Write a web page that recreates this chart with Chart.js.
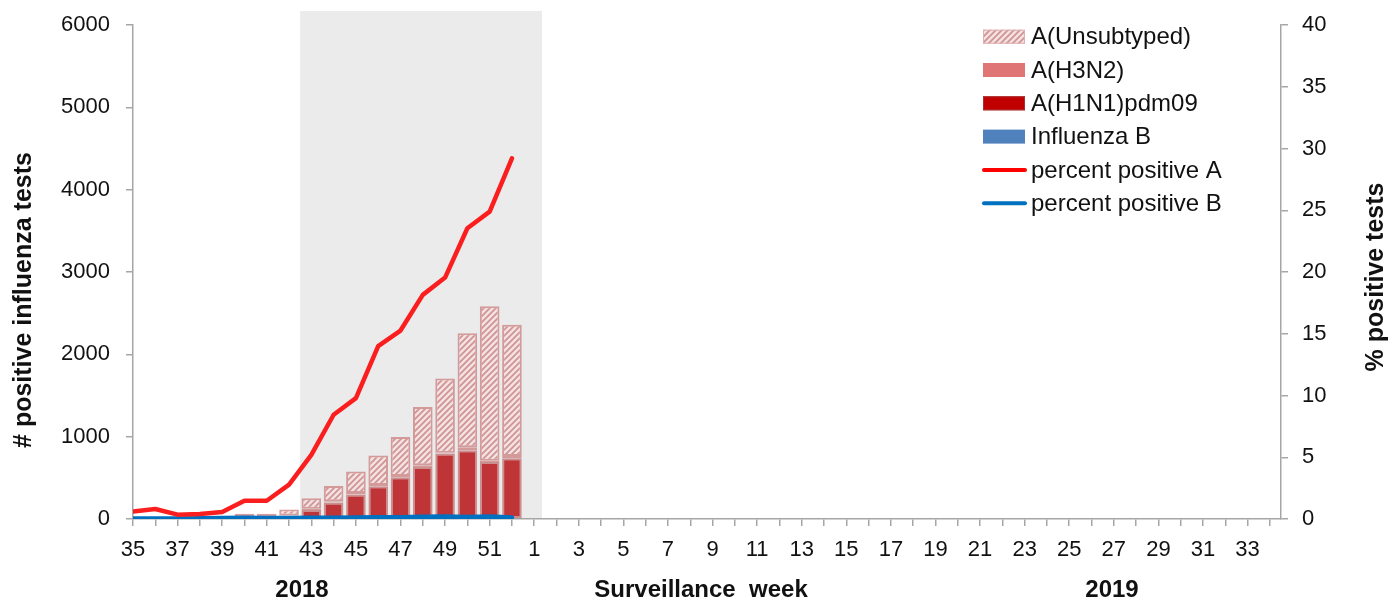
<!DOCTYPE html>
<html>
<head>
<meta charset="utf-8">
<script src="https://cdn.jsdelivr.net/npm/chart.js@4/dist/chart.umd.min.js"></script>
<style>
  html,body{margin:0;padding:0;background:#fff;}
  #wrap{position:relative;width:1398px;height:602px;}
</style>
</head>
<body>
<div id="wrap"><canvas id="c"></canvas></div>
<script>
// ---------- DATA ----------
const weeks = [35,36,37,38,39,40,41,42,43,44,45,46,47,48,49,50,51,52,
  1,2,3,4,5,6,7,8,9,10,11,12,13,14,15,16,17,18,19,20,21,22,23,24,25,26,27,28,29,30,31,32,33,34];
const fluB     = [2,2,3,3,4,4,4,5,5,6,6,7,8,8,10,9,9,8];
const h1n1     = [0,0,0,2,3,5,5,25,104,194,291,392,498,625,785,826,682,731];
const h3n2     = [0,0,1,2,2,5,5,12,15,15,20,15,15,20,10,35,15,25];
const unsub    = [4,6,7,8,13,50,50,73,127,187,259,358,474,707,902,1387,1877,1594];
const pctA     = [0.61,0.81,0.35,0.40,0.57,1.48,1.48,2.78,5.2,8.44,9.79,14.0,15.26,18.15,19.55,23.54,24.89,29.2];
const pctB     = [0.05,0.05,0.05,0.06,0.08,0.1,0.08,0.08,0.1,0.1,0.12,0.14,0.14,0.18,0.2,0.16,0.2,0.12];
const leftTicks  = [0,1000,2000,3000,4000,5000,6000];
const rightTicks = [0,5,10,15,20,25,30,35,40];
const shade = [7.5, 18.35]; // season shading, in week index units

const FONT = '"Liberation Sans", Arial, sans-serif';
const pts = arr => arr.map((v,i)=>({x:i,y:v}));

// hatch for A(Unsubtyped)
function hatch(){
  const c=document.createElement('canvas'); c.width=6; c.height=6;
  const g=c.getContext('2d');
  g.fillStyle='#F4E2E2'; g.fillRect(0,0,6,6);
  g.strokeStyle='#D09494'; g.lineWidth=1.8;
  g.beginPath();
  g.moveTo(-1,7); g.lineTo(7,-1);
  g.moveTo(-4,4); g.lineTo(4,-4);
  g.moveTo(2,10); g.lineTo(10,2);
  g.stroke();
  return g.createPattern(c,'repeat');
}
const hatchFill = hatch();
const barBorder = 'rgba(208,140,140,0.85)';

// ---------- PLUGINS ----------
const deco = {
  id:'deco',
  beforeDraw(chart){
    const {ctx, chartArea, scales:{x}} = chart;
    ctx.save();
    ctx.fillStyle='#EBEBEB';
    const x1=x.getPixelForValue(shade[0]), x2=x.getPixelForValue(shade[1]);
    const top = chartArea.top-14;
    ctx.fillRect(x1, top, x2-x1, chartArea.bottom-top);
    ctx.restore();
  },
  afterDraw(chart){
    const {ctx} = chart;
    ctx.save();
    ctx.fillStyle='#111';
    ctx.font='bold 24px '+FONT;
    ctx.textAlign='center'; ctx.textBaseline='middle';
    ctx.fillText('Surveillance  week', 701, 590);
    ctx.fillText('2018', 302, 590);
    ctx.fillText('2019', 1112, 590);
    ctx.font='bold 25px '+FONT;
    ctx.save(); ctx.translate(24,300); ctx.rotate(-Math.PI/2);
    ctx.fillText('# positive influenza tests',0,0); ctx.restore();
    ctx.save(); ctx.translate(1376,277); ctx.rotate(-Math.PI/2);
    ctx.fillText('% positive tests',0,0); ctx.restore();

    // legend
    const items = [
      {t:'A(Unsubtyped)', box:hatchFill, border:'#E0B0B0'},
      {t:'A(H3N2)', box:'#E07575'},
      {t:'A(H1N1)pdm09', box:'#C00000', border:'#A83030'},
      {t:'Influenza B', box:'#4F81BD'},
      {t:'percent positive A', line:'#FF0000'},
      {t:'percent positive B', line:'#0070C0'}
    ];
    ctx.font='24px '+FONT; ctx.textAlign='left';
    items.forEach((it,i)=>{
      const cy = 36.7 + i*33.3;
      if(it.line){
        ctx.strokeStyle=it.line; ctx.lineWidth=4; ctx.lineCap='round';
        ctx.beginPath(); ctx.moveTo(984,cy); ctx.lineTo(1025,cy); ctx.stroke();
      } else {
        ctx.fillStyle=it.box; ctx.fillRect(983,cy-7,42,14);
        if(it.border){ ctx.strokeStyle=it.border; ctx.lineWidth=1; ctx.strokeRect(983.5,cy-6.5,41,13); }
      }
      ctx.fillStyle='#111';
      ctx.fillText(it.t, 1031, cy+1);
    });
    ctx.restore();
  }
};

// ---------- CHART ----------
const barCommon = {type:'bar', yAxisID:'y', stack:'flu', order:2,
  borderWidth:2, borderColor:barBorder, borderSkipped:false,
  barPercentage:0.88, categoryPercentage:1};

const axisGrid = {drawOnChartArea:false, drawTicks:true, tickLength:7, color:'#A6A6A6', lineWidth:1.5, offset:false};
const axisBorder = {display:true, color:'#A6A6A6', width:1.5};
const tickFont = {family:FONT, size:22};
const noPad = s => { s.paddingTop = 0; s.paddingBottom = 0; };

new Chart(document.getElementById('c'), {
  data:{
    datasets:[
      Object.assign({label:'Influenza B', data:pts(fluB), backgroundColor:'#4F81BD'}, barCommon, {borderWidth:0}),
      Object.assign({label:'A(H1N1)pdm09', data:pts(h1n1), backgroundColor:'#BE3437'}, barCommon, {borderColor:'rgba(196,120,120,0.8)'}),
      Object.assign({label:'A(H3N2)', data:pts(h3n2), backgroundColor:'#E38585'}, barCommon),
      Object.assign({label:'A(Unsubtyped)', data:pts(unsub), backgroundColor:hatchFill}, barCommon),
      {type:'line', label:'percent positive A', data:pts(pctA), yAxisID:'y1', order:0,
        borderColor:'#FA1E1E', borderWidth:4.5, pointRadius:0, tension:0, borderJoinStyle:'round', borderCapStyle:'round'},
      {type:'line', label:'percent positive B', data:pts(pctB), yAxisID:'y1', order:0,
        borderColor:'#0070C0', borderWidth:4.5, pointRadius:0, tension:0, borderJoinStyle:'round', borderCapStyle:'round'}
    ]
  },
  options:{
    responsive:true, maintainAspectRatio:false, animation:false,
    layout:{padding:{top:25,left:0,right:0,bottom:0}},
    plugins:{legend:{display:false}, tooltip:{enabled:false}},
    scales:{
      x:{type:'linear', min:0, max:51.5, stacked:true, offset:false,
        grid:axisGrid, border:axisBorder,
        ticks:{stepSize:1, autoSkip:false, maxRotation:0, includeBounds:false, padding:11,
          color:'#111', font:tickFont,
          callback:(v)=> (Number.isInteger(v) && v%2===0 && weeks[v]!==undefined) ? String(weeks[v]) : ''},
        afterFit:s=>{ s.height = 83; }
      },
      y:{position:'left', min:0, max:6000, stacked:true,
        grid:axisGrid, border:axisBorder,
        afterBuildTicks:s=>{ s.ticks = leftTicks.map(v=>({value:v})); },
        ticks:{padding:16, color:'#111', font:tickFont, callback:v=>String(v)},
        afterFit:s=>{ s.width = 133; noPad(s); }
      },
      y1:{position:'right', min:0, max:40,
        grid:axisGrid, border:axisBorder,
        afterBuildTicks:s=>{ s.ticks = rightTicks.map(v=>({value:v})); },
        ticks:{padding:14, color:'#111', font:tickFont, callback:v=>String(v)},
        afterFit:s=>{ s.width = 117; noPad(s); }
      }
    }
  },
  plugins:[deco]
});
</script>
</body>
</html>
